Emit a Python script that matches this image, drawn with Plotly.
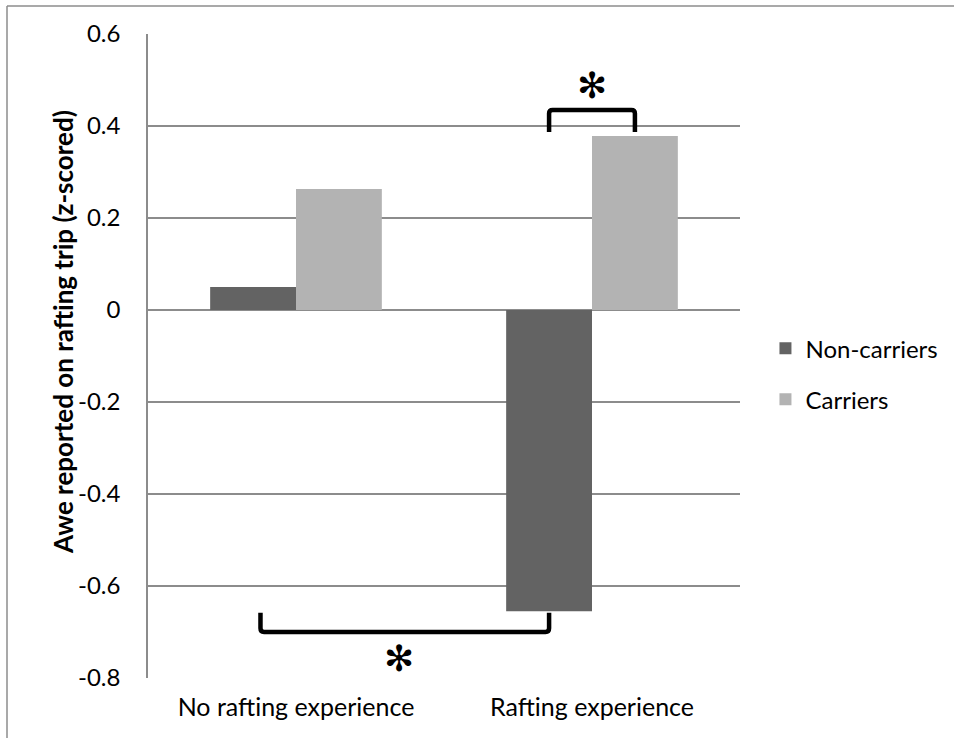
import plotly.graph_objects as go

# Group labels and z-scored awe values for each series
categories = ["No rafting experience", "Rafting experience"]
non_carriers = [0.05, -0.655]
carriers = [0.263, 0.378]
y_ticks = [0.6, 0.4, 0.2, 0, -0.2, -0.4, -0.6, -0.8]
y_title = "Awe reported on rafting trip (z-scored)"

# Significance brackets (x in category units, y in data units)
top_bracket_x = [0.855, 1.145]
top_bracket_y = [0.387, 0.435]
bottom_bracket_x = [-0.12, 0.855]
bottom_bracket_y = [-0.658, -0.70]
star_pos = [(1.0, 0.488), (0.348, -0.757)]

FONT = "Lato"
W, H = 954, 738
L, R, T, B = 148, 214, 34, 60
pw, ph = W - L - R, H - T - B

fig = go.Figure()
fig.add_trace(go.Bar(
    name="Non-carriers", x=[0, 1], y=non_carriers,
    marker=dict(color="#636363", line=dict(width=0)),
    legendgroup="a",
))
fig.add_trace(go.Bar(
    name="Carriers", x=[0, 1], y=carriers,
    marker=dict(color="#b3b3b3", line=dict(width=0)),
    legendgroup="b",
))


def bracket(x0, x1, y_leg, y_bar, r=0.012, ry=0.008):
    # U-shaped bracket with softly rounded corners
    s = 1 if y_bar > y_leg else -1
    return (
        f"M {x0} {y_leg} L {x0} {y_bar - s * ry} "
        f"Q {x0} {y_bar} {x0 + r} {y_bar} "
        f"L {x1 - r} {y_bar} "
        f"Q {x1} {y_bar} {x1} {y_bar - s * ry} "
        f"L {x1} {y_leg}"
    )


shapes = [
    dict(type="path", xref="x", yref="y",
         path=bracket(top_bracket_x[0], top_bracket_x[1], top_bracket_y[0], top_bracket_y[1]),
         line=dict(color="black", width=4.5)),
    dict(type="path", xref="x", yref="y",
         path=bracket(bottom_bracket_x[0], bottom_bracket_x[1], bottom_bracket_y[0], bottom_bracket_y[1]),
         line=dict(color="black", width=4.5)),
]

# Outer chart frame (top and left edges)
fx0 = (7 - L) / pw
fy0 = (H - B - 6) / ph
shapes += [
    dict(type="line", xref="paper", yref="paper", x0=fx0, x1=(W - L) / pw, y0=fy0, y1=fy0,
         line=dict(color="#8c8c8c", width=1.5)),
    dict(type="line", xref="paper", yref="paper", x0=fx0, x1=fx0, y0=fy0, y1=-(B + 2) / ph,
         line=dict(color="#8c8c8c", width=1.5)),
]

annotations = [
    dict(x=sx, y=sy, xref="x", yref="y", text="✻", showarrow=False,
         font=dict(family="DejaVu Sans", size=36, color="black"))
    for sx, sy in star_pos
]
# Rotated y-axis title
annotations.append(dict(
    x=(63 - L) / pw, y=(H - B - 332) / ph, xref="paper", yref="paper",
    text=f"<b>{y_title}</b>", textangle=-90, showarrow=False,
    xanchor="center", yanchor="middle",
    font=dict(family=FONT, size=26, color="black"),
))

fig.update_layout(
    width=W, height=H,
    margin=dict(l=L, r=R, t=T, b=B, autoexpand=False),
    paper_bgcolor="white", plot_bgcolor="white",
    barmode="group", bargap=0.42, bargroupgap=0,
    font=dict(family=FONT, size=24, color="black"),
    shapes=shapes, annotations=annotations,
    showlegend=True,
    legend=dict(x=1.043, y=0.472, xanchor="left", yanchor="middle",
                traceorder="grouped", tracegroupgap=17,
                font=dict(family=FONT, size=24, color="black"),
                itemwidth=30),
    xaxis=dict(
        tickmode="array", tickvals=[0, 1], ticktext=categories,
        range=[-0.5, 1.5], showgrid=False, zeroline=False,
        showline=False, ticks="", ticklabelstandoff=12,
        tickfont=dict(family=FONT, size=25),
    ),
    yaxis=dict(
        range=[-0.8, 0.6], tickmode="array", tickvals=y_ticks,
        ticktext=[("%g" % v) for v in y_ticks],
        showgrid=True, gridcolor="#8c8c8c", gridwidth=1.5,
        zeroline=True, zerolinecolor="#8c8c8c", zerolinewidth=1.5,
        showline=True, linecolor="#8c8c8c", linewidth=1.5,
        ticks="", ticklabelstandoff=21,
        tickfont=dict(family=FONT, size=24),
    ),
)

fig.write_html("out.html")
